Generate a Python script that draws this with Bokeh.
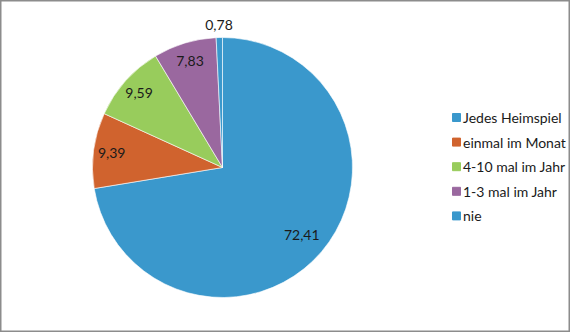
import math
from bokeh.plotting import figure
from bokeh.models import ColumnDataSource, Range1d
from bokeh.core.properties import value
from bokeh.embed import file_html
from bokeh.resources import INLINE

categories = ["Jedes Heimspiel", "einmal im Monat", "4-10 mal im Jahr", "1-3 mal im Jahr", "nie"]
values = [72.41, 9.39, 9.59, 7.83, 0.78]
labels = ["72,41", "9,39", "9,59", "7,83", "0,78"]
colors = ["#3A98CC", "#D0632E", "#98CC5C", "#9A689F", "#3A98CC"]

W, H = 570, 332
CX, CY, R = 222, H - 167, 130
FONT = "Lato"

total = sum(values)
starts, ends, lx, ly = [], [], [], []
cum = 0.0
for v in values:
    a0 = math.pi / 2 - 2 * math.pi * (cum + v) / total
    a1 = math.pi / 2 - 2 * math.pi * cum / total
    starts.append(a0)
    ends.append(a1)
    mid = (a0 + a1) / 2
    frac = v / total
    rf = 1.1 if frac < 0.02 else (0.8 if frac > 0.5 else 0.86)
    lx.append(CX + rf * R * math.cos(mid))
    ly.append(CY + rf * R * math.sin(mid))
    cum += v

src = ColumnDataSource(dict(start=starts, end=ends, color=colors, lx=lx, ly=ly, label=labels))

p = figure(width=W, height=H, output_backend="svg", toolbar_location=None,
           x_range=Range1d(0, W), y_range=Range1d(0, H), min_border=0)
p.axis.visible = False
p.grid.visible = False
p.outline_line_color = "#8C8C8C"
p.outline_line_width = 2
p.background_fill_color = "white"

p.wedge(x=CX, y=CY, radius=R, start_angle="start", end_angle="end", color="color",
        line_color="white", line_width=0.6, source=src)
p.text(x="lx", y="ly", text="label", source=src, text_align="center", text_baseline="middle",
       text_font=value(FONT), text_font_size="14px", text_color="#1a1a1a")

# legend
LX, LY0, DY = 456, H - 117, 24.6
leg_y = [LY0 - i * DY for i in range(len(categories))]
leg = ColumnDataSource(dict(x=[LX] * len(categories), y=leg_y, color=colors, label=categories,
                            tx=[LX + 6.5] * len(categories)))
p.rect(x="x", y="y", width=8, height=8, color="color", source=leg)
p.text(x="tx", y="y", text="label", source=leg, text_align="left", text_baseline="middle",
       text_font=value(FONT), text_font_size="14px", text_color="#1a1a1a")

open("out.html", "w").write(file_html(p, INLINE))
